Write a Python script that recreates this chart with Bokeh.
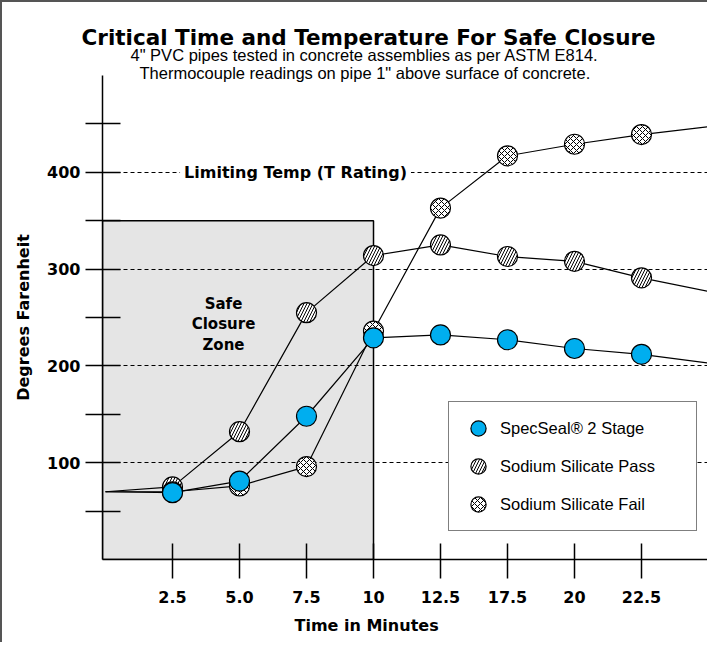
from bokeh.plotting import figure
from bokeh.models import (Range1d, FixedTicker, Label, Legend, LegendItem,
                          BoxAnnotation, Title)
from bokeh.embed import file_html
from bokeh.resources import INLINE

# ---------------- data ----------------
time_labels = ["2.5", "5.0", "7.5", "10", "12.5", "17.5", "20", "22.5"]
specseal = [69, 81, 148, 229, 232, 227, 218, 212]
silicate_pass = [75, 132, 255, 314, 325, 313, 308, 291]
silicate_fail = [70, 76, 96, 236, 363, 417, 429, 439]
start_temp = 70            # all curves start here at time 0
specseal_trend_end = 203   # curve continuation past the last reading
pass_trend_end = 277
fail_trend_end = 447
y_major = [100, 200, 300, 400]
y_minor = [50, 150, 250, 350, 450]
limiting_temp = 400
safe_zone_top = 350
safe_zone_end = "10"

series_names = ["SpecSeal\u00ae 2 Stage", "Sodium Silicate Pass", "Sodium Silicate Fail"]
title_text = "Critical Time and Temperature For Safe Closure"
subtitle_1 = '4" PVC pipes tested in concrete assemblies as per ASTM E814.'
subtitle_2 = 'Thermocouple readings on pipe 1" above surface of concrete.'

pos = list(range(1, len(time_labels) + 1))
line_x = [0] + pos + [len(time_labels) + 1]

p = figure(width=707, height=642, output_backend="svg", toolbar_location=None,
           x_range=Range1d(-0.045, 8.985), y_range=Range1d(0, 500),
           min_border_left=102, min_border_right=0, min_border_top=75,
           min_border_bottom=83, title=None)
p.outline_line_color = None
p.background_fill_color = "white"
p.border_fill_alpha = 0
p.styles = {"box-shadow": "inset 2px 2px 0 0 #555555"}

# safe closure zone
zone = BoxAnnotation(right=time_labels.index(safe_zone_end) + 1, top=safe_zone_top,
                     fill_color="#e5e5e5", fill_alpha=1, line_color="black",
                     line_alpha=1, line_width=1.5, level="image")
p.add_layout(zone)

# grid
p.xgrid.visible = False
p.ygrid.ticker = FixedTicker(ticks=y_major)
p.ygrid.grid_line_color = "black"
p.ygrid.grid_line_dash = "4 3"
p.ygrid.grid_line_width = 1

# axes
p.yaxis.ticker = FixedTicker(ticks=y_major, minor_ticks=y_minor)
p.xaxis.ticker = FixedTicker(ticks=pos)
p.xaxis.major_label_overrides = {i + 1: t for i, t in enumerate(time_labels)}
for ax in (p.xaxis[0], p.yaxis[0]):
    ax.axis_line_width = 1.5
    ax.axis_line_color = "black"
    ax.major_tick_line_width = 1.5
    ax.major_tick_line_color = "black"
    ax.minor_tick_line_width = 1.5
    ax.minor_tick_line_color = "black"
    ax.major_label_text_font = "DejaVu Sans"
    ax.major_label_text_font_style = "bold"
    ax.major_label_text_font_size = "16px"
    ax.major_label_text_color = "black"
p.yaxis.major_tick_in = 18
p.yaxis.major_tick_out = 17
p.yaxis.minor_tick_in = 18
p.yaxis.minor_tick_out = 17
p.yaxis.major_label_standoff = 5
p.yaxis.axis_label = "Degrees Farenheit"
p.yaxis.axis_label_text_font = "DejaVu Sans"
p.yaxis.axis_label_text_font_style = "bold"
p.yaxis.axis_label_text_font_size = "16px"
p.yaxis.axis_label_text_color = "black"
p.yaxis.axis_label_standoff = 11
p.xaxis.major_tick_in = 16
p.xaxis.major_tick_out = 19
p.xaxis.minor_tick_in = 0
p.xaxis.minor_tick_out = 0
p.xaxis.major_label_standoff = 12

# lines
p.line(line_x, [start_temp] + silicate_pass + [pass_trend_end], line_color="black", line_width=1.2)
p.line(line_x, [start_temp] + silicate_fail + [fail_trend_end], line_color="black", line_width=1.2)
p.line(line_x, [start_temp] + specseal + [specseal_trend_end], line_color="black", line_width=1.2)

# markers
r_pass = p.scatter(pos, silicate_pass, size=20, fill_color="white", line_color="black",
                   line_width=1.2, hatch_pattern="/", hatch_scale=6, hatch_weight=1,
                   hatch_color="black")
r_fail = p.scatter(pos, silicate_fail, size=20, fill_color="white", line_color="black",
                   line_width=1.2, hatch_pattern="x", hatch_scale=6, hatch_weight=1,
                   hatch_color="black")
r_spec = p.scatter(pos, specseal, size=20, fill_color="#00aeef", line_color="black",
                   line_width=1.2)

# limiting temperature label
p.add_layout(Label(x=193, y=limiting_temp, x_units="screen", y_units="data",
                   text="Limiting Temp (T Rating)", text_align="center",
                   text_baseline="middle", text_font="DejaVu Sans",
                   text_font_style="bold", text_font_size="16px", text_color="black",
                   background_fill_color="white", padding=4))

# safe closure zone text
p.add_layout(Label(x=121, y=235, x_units="screen", y_units="screen",
                   text="Safe\nClosure\nZone", text_align="center", text_baseline="middle",
                   text_font="DejaVu Sans", text_font_style="bold", text_font_size="15px",
                   text_line_height=1.15, text_color="black"))

# titles (nearest to the frame first)
p.add_layout(Title(text=subtitle_2, align="left", offset=37, standoff=-16,
                   vertical_align="top",
                   text_font="Liberation Sans", text_font_style="normal",
                   text_font_size="16.5px", text_color="black"), "above")
p.add_layout(Title(text=subtitle_1, align="left", offset=28, standoff=12,
                   vertical_align="top",
                   text_font="Liberation Sans", text_font_style="normal",
                   text_font_size="16.5px", text_color="black"), "above")
p.add_layout(Title(text=title_text, align="left", offset=-21, standoff=-25,
                   vertical_align="top",
                   text_font="DejaVu Sans", text_font_style="bold",
                   text_font_size="21.5px", text_color="black"), "above")

# x axis title
p.add_layout(Title(text="Time in Minutes", align="left", offset=192, standoff=16,
                   text_font="DejaVu Sans", text_font_style="bold",
                   text_font_size="16px", text_color="black"), "below")

# legend
legend = Legend(items=[LegendItem(label=series_names[0], renderers=[r_spec]),
                       LegendItem(label=series_names[1], renderers=[r_pass]),
                       LegendItem(label=series_names[2], renderers=[r_fail])],
                location=(346, 28), glyph_width=44, glyph_height=38, padding=7,
                spacing=0, label_standoff=0, label_width=189,
                label_text_font="Liberation Sans", label_text_font_size="16.5px",
                label_text_color="black", border_line_color="black",
                border_line_width=1.5, background_fill_color="white",
                background_fill_alpha=1, margin=0)
p.add_layout(legend)

open("out.html", "w").write(file_html(p, INLINE))
